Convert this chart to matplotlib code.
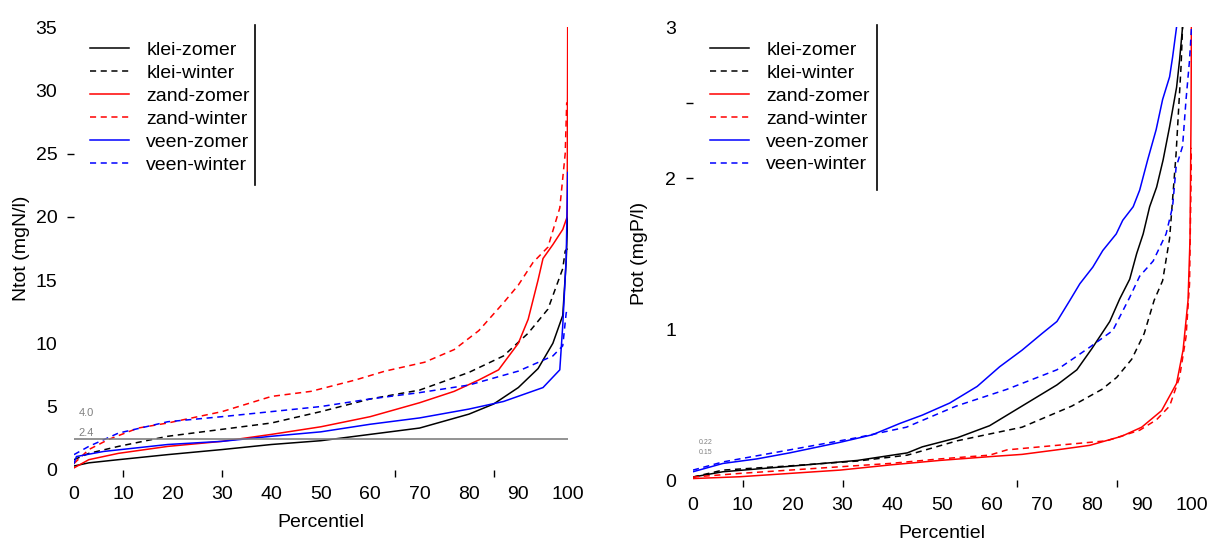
import numpy as np
import matplotlib
matplotlib.use('Agg')
import matplotlib.pyplot as plt

plt.rcParams['font.family'] = ['Liberation Sans', 'DejaVu Sans']

# Ntot percentile curves (percentile, mgN/l)
n_kz_p = [0, 3, 9, 19, 30, 40, 50, 60, 70, 80, 85, 90, 94, 97, 99, 99.7, 100]
n_kz = [0.3, 0.55, 0.8, 1.2, 1.6, 2.0, 2.3, 2.8, 3.3, 4.4, 5.2, 6.5, 8.0, 10.0, 12.2, 16.5, 20.0]
n_kw_p = [0, 3, 9, 19, 30, 40, 50, 60, 70, 80, 87, 92, 96, 99, 99.5, 100]
n_kw = [0.8, 1.3, 1.85, 2.65, 3.2, 3.7, 4.6, 5.6, 6.3, 7.7, 9.0, 10.8, 12.7, 15.9, 17.3, 17.5]
n_zz_p = [0, 3, 9, 19, 30, 40, 50, 60, 70, 77, 82, 86, 90, 92, 94, 95, 97, 99, 99.9, 100]
n_zz = [0.15, 0.8, 1.3, 1.85, 2.25, 2.8, 3.4, 4.2, 5.3, 6.2, 7.1, 7.9, 10.0, 11.9, 15.0, 16.7, 17.8, 19.0, 20.0, 35.0]
n_zw_p = [0, 3, 7, 13, 19, 30, 40, 48, 57, 63, 71, 77, 82, 87, 90, 93, 96, 98.4, 99.5, 99.8, 100]
n_zw = [0.5, 1.6, 2.4, 3.3, 3.7, 4.6, 5.8, 6.2, 7.1, 7.8, 8.5, 9.5, 11.0, 13.2, 14.6, 16.4, 17.6, 20.7, 25.0, 29.0, 29.0]
n_vz_p = [0, 0.5, 6, 19, 30, 40, 50, 60, 70, 80, 87, 95, 98.4, 99, 99.7, 100]
n_vz = [0.5, 1.05, 1.45, 2.0, 2.25, 2.65, 3.0, 3.6, 4.1, 4.8, 5.4, 6.5, 7.9, 11.4, 16.7, 23.5]
n_vw_p = [0, 3, 9, 19, 30, 40, 50, 60, 70, 80, 90, 97, 99, 99.7, 100]
n_vw = [1.2, 1.85, 2.9, 3.8, 4.2, 4.6, 5.0, 5.6, 6.1, 6.7, 7.8, 9.0, 9.8, 12.4, 12.7]

# Ptot percentile curves (percentile, mgP/l)
p_kz_p = [0, 6, 19, 33, 43, 46, 53, 59.5, 66, 69, 73, 75, 77, 80, 83.6, 85.6, 87.6, 89, 90.3,
          91.6, 93, 94.3, 95.6, 97, 97.6, 98.2]
p_kz = [0.02, 0.055, 0.09, 0.13, 0.18, 0.22, 0.28, 0.36, 0.49, 0.55, 0.63, 0.68, 0.73, 0.87, 1.05,
        1.2, 1.33, 1.5, 1.63, 1.81, 1.94, 2.12, 2.34, 2.6, 2.78, 3.0]
p_kw_p = [0, 6, 19, 33, 43, 53, 66, 76, 82, 85, 88, 90.5, 92.5, 94.2, 95.6, 96.9, 97.9, 98.2]
p_kw = [0.02, 0.066, 0.093, 0.126, 0.165, 0.26, 0.35, 0.49, 0.6, 0.68, 0.8, 0.97, 1.19, 1.32,
        1.6, 2.16, 2.74, 3.0]
p_zz_p = [0, 9.4, 19.4, 29.5, 39.5, 49.5, 59.5, 66, 73, 79.6, 86, 90, 94, 97, 98.3, 99.3, 99.7, 99.9, 100]
p_zz = [0.01, 0.022, 0.044, 0.066, 0.1, 0.13, 0.155, 0.17, 0.2, 0.23, 0.29, 0.35, 0.46, 0.64,
        0.86, 1.19, 1.6, 2.4, 3.2]
p_zw_p = [0, 9.4, 19.4, 29.5, 39.5, 49.5, 59.5, 63, 73, 83, 89.6, 93, 95.6, 97.6, 98.9, 99.6, 100]
p_zw = [0.02, 0.044, 0.066, 0.088, 0.11, 0.14, 0.165, 0.2, 0.23, 0.26, 0.33, 0.4, 0.49, 0.68,
        0.95, 1.3, 2.2]
p_vz_p = [0, 6, 12.8, 19.4, 29.5, 36, 41.5, 46, 51.5, 57, 61.5, 66, 70, 73, 75.6, 77.6, 80.2,
          82.2, 84.9, 86.2, 88.3, 89.6, 91.2, 92.9, 94.2, 95.6, 96.2, 97]
p_vz = [0.055, 0.11, 0.14, 0.18, 0.25, 0.3, 0.375, 0.43, 0.51, 0.62, 0.75, 0.86, 0.97, 1.05,
        1.19, 1.3, 1.41, 1.52, 1.63, 1.72, 1.81, 1.92, 2.12, 2.32, 2.52, 2.67, 2.8, 3.0]
p_vw_p = [0, 6, 19.4, 32.8, 42.8, 52.8, 62.9, 73, 79.6, 84.2, 87.6, 89.6, 92.3, 94.9, 96.2,
          96.9, 98.2, 98.9, 99.6, 100]
p_vw = [0.066, 0.12, 0.2, 0.28, 0.35, 0.49, 0.6, 0.73, 0.88, 0.99, 1.21, 1.35, 1.45, 1.63,
        1.81, 2.07, 2.21, 2.52, 2.78, 3.0]

labels = ['klei-zomer', 'klei-winter', 'zand-zomer', 'zand-winter', 'veen-zomer', 'veen-winter']
colors = ['black', 'black', 'red', 'red', 'blue', 'blue']
dash = (0, (4, 3))
styles = ['-', dash, '-', dash, '-', dash]

n_series = [(n_kz_p, n_kz), (n_kw_p, n_kw), (n_zz_p, n_zz), (n_zw_p, n_zw), (n_vz_p, n_vz), (n_vw_p, n_vw)]
p_series = [(p_kz_p, p_kz), (p_kw_p, p_kw), (p_zz_p, p_zz), (p_zw_p, p_zw), (p_vz_p, p_vz), (p_vw_p, p_vw)]

n_ref = 2.4
n_notes = ['4.0', '2.4']
p_notes = ['0.22', '0.15']

fig = plt.figure(figsize=(12.13, 5.4), dpi=100)
ax1 = fig.add_axes([0.061, 0.13, 0.407, 0.82])
ax2 = fig.add_axes([0.5713, 0.111, 0.411, 0.839])


def style_axis(ax, ymax, yticks, yminor, ylabel):
    for s in ax.spines.values():
        s.set_visible(False)
    ax.set_xlim(0, 100)
    ax.set_ylim(0, ymax)
    # keep the short marks even where they sit on a labelled tick
    ax.xaxis.remove_overlapping_locs = False
    ax.yaxis.remove_overlapping_locs = False
    ax.set_xticks(np.arange(0, 101, 10))
    ax.set_yticks(yticks)
    ax.set_xticks([10, 30, 65, 85], minor=True)
    ax.set_yticks(yminor, minor=True)
    ax.tick_params(which='major', length=0, labelsize=14)
    ax.tick_params(axis='x', which='major', pad=12)
    ax.tick_params(axis='y', which='major', pad=12)
    ax.tick_params(which='minor', length=5, width=1, direction='out')
    ax.set_xlabel('Percentiel', fontsize=14)
    ax.set_ylabel(ylabel, fontsize=14)
    ax.xaxis.set_label_coords(0.5, -0.1)
    ax.yaxis.set_label_coords(-0.09, 0.5)


style_axis(ax1, 35, np.arange(0, 36, 5), [20, 25], 'Ntot (mgN/l)')
style_axis(ax2, 3, [0, 1, 2, 3], [2, 2.5], 'Ptot (mgP/l)')

for (x, y), lab, c, ls in zip(n_series, labels, colors, styles):
    ax1.plot(x, y, color=c, ls=ls, lw=1.1, label=lab)
for (x, y), lab, c, ls in zip(p_series, labels, colors, styles):
    ax2.plot(x, y, color=c, ls=ls, lw=1.1, label=lab)

ax1.axhline(n_ref, color='#808080', lw=1.2)
ax1.text(1, 4.5, n_notes[0], fontsize=8, color='#808080', va='center')
ax1.text(1, 2.9, n_notes[1], fontsize=8, color='#808080', va='center')
ax2.text(1.2, 0.25, p_notes[0], fontsize=5, color='#808080', va='center')
ax2.text(1.2, 0.18, p_notes[1], fontsize=5, color='#808080', va='center')

for ax, x0, y0, xv, yv in [(ax1, 0.032, 0.967, 0.366, (0.643, 1.005)),
                           (ax2, 0.034, 0.968, 0.369, (0.64, 1.004))]:
    ax.legend(loc='upper left', bbox_to_anchor=(x0, y0), frameon=False, fontsize=14,
              borderaxespad=0, borderpad=0, handlelength=2.0, handletextpad=0.9,
              labelspacing=0.27)
    ax.plot([xv, xv], yv, color='black', lw=1.2, transform=ax.transAxes, clip_on=False)

fig.savefig('out.png', dpi=100)
